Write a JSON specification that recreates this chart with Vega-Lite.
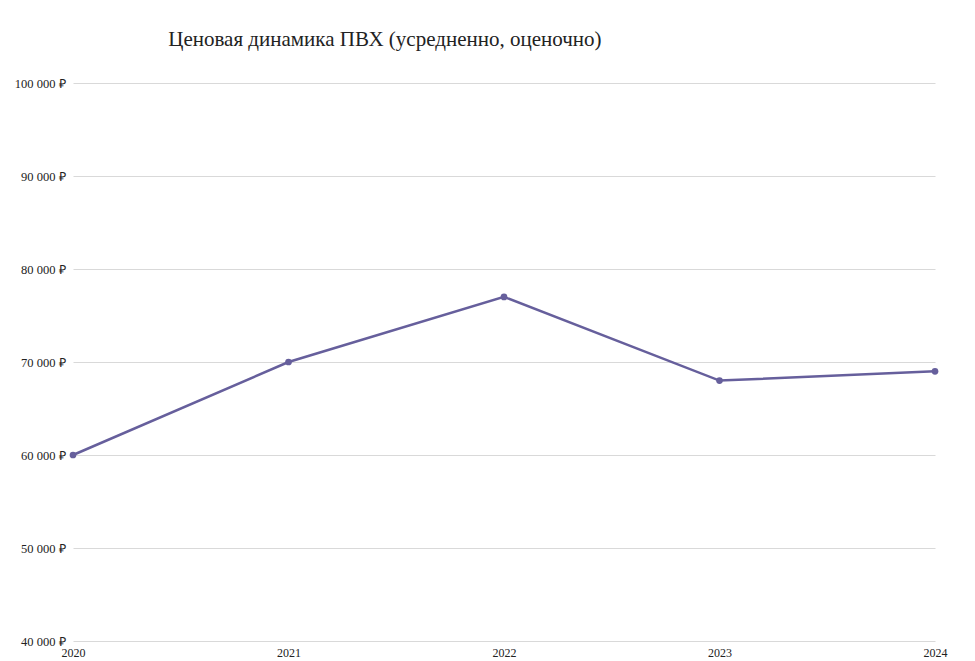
{
  "$schema": "https://vega.github.io/schema/vega-lite/v6.json",
  "autosize": "none",
  "padding": {"left": 73, "top": 83, "right": 40, "bottom": 20},
  "width": 862,
  "height": 558,
  "title": {
    "text": "Ценовая динамика ПВХ (усредненно, оценочно)",
    "anchor": "start",
    "dx": 154,
    "offset": 27,
    "font": "Liberation Serif",
    "fontSize": 21,
    "fontWeight": "normal",
    "color": "#222222"
  },
  "config": {
    "background": "white",
    "view": {"stroke": null},
    "font": "Liberation Serif"
  },
  "data": {
    "values": [
      {"year": "2020", "price": 60000},
      {"year": "2021", "price": 70000},
      {"year": "2022", "price": 77000},
      {"year": "2023", "price": 68000},
      {"year": "2024", "price": 69000}
    ]
  },
  "mark": {
    "type": "line",
    "color": "#665f9c",
    "strokeWidth": 2.5,
    "point": {"filled": true, "size": 45, "color": "#665f9c"}
  },
  "encoding": {
    "x": {
      "field": "year",
      "type": "ordinal",
      "scale": {"type": "point", "padding": 0},
      "axis": {
        "title": null,
        "labelAngle": 0,
        "domain": false,
        "ticks": false,
        "labelPadding": 6,
        "labelFontSize": 12,
        "labelColor": "#222222",
        "labelFont": "Liberation Serif"
      }
    },
    "y": {
      "field": "price",
      "type": "quantitative",
      "scale": {"domain": [40000, 100000], "nice": false, "zero": false},
      "axis": {
        "title": null,
        "values": [40000, 50000, 60000, 70000, 80000, 90000, 100000],
        "labelExpr": "replace(format(datum.value, ','), regexp(',', 'g'), ' ') + ' ₽'",
        "domain": false,
        "ticks": false,
        "labelPadding": 8,
        "labelFontSize": 12.5,
        "labelColor": "#222222",
        "labelFont": "Liberation Serif",
        "gridColor": "#d9d9d9",
        "gridWidth": 1
      }
    }
  }
}
